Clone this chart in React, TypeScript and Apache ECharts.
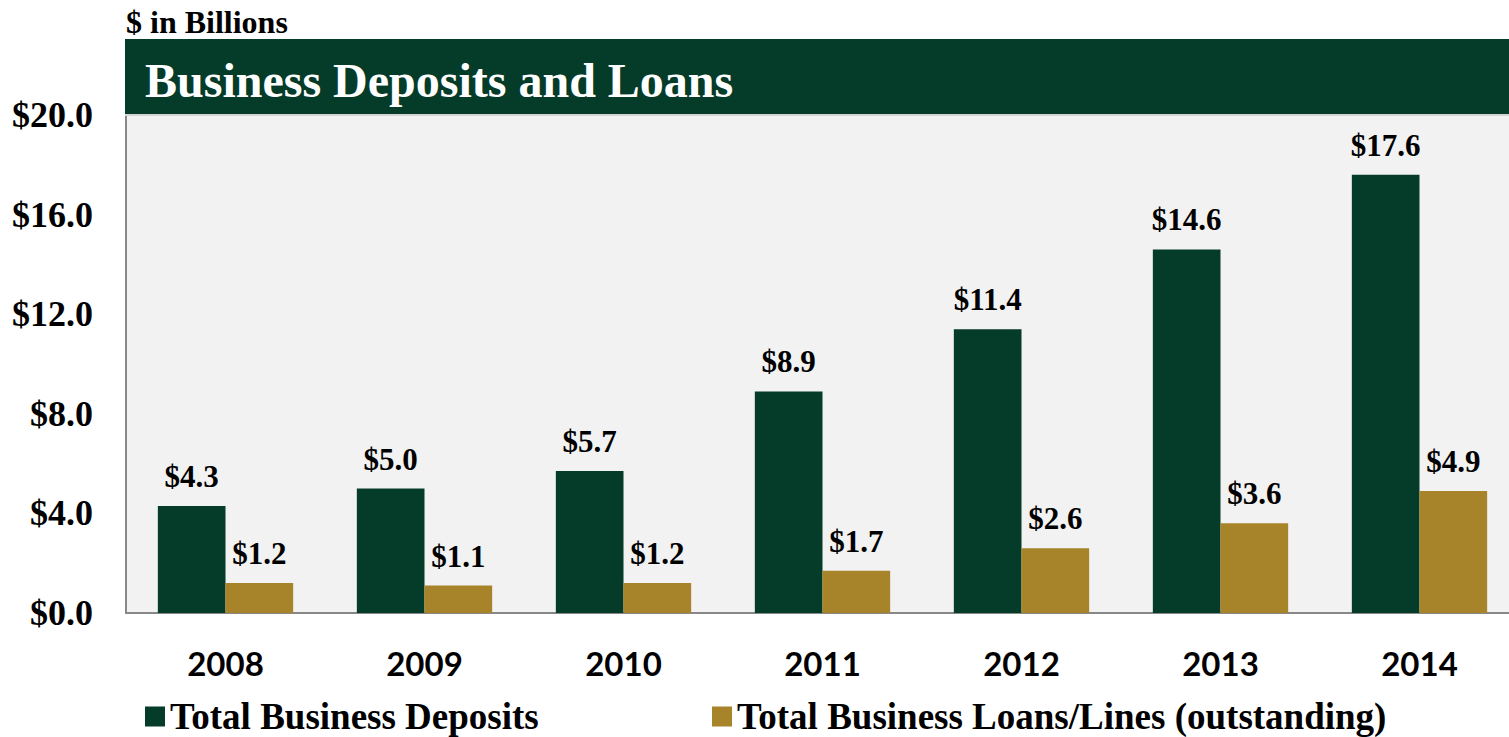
import React, { useEffect, useRef } from "react";
import * as echarts from "echarts";

const years = ["2008", "2009", "2010", "2011", "2012", "2013", "2014"];
const deposits = [4.3, 5.0, 5.7, 8.9, 11.4, 14.6, 17.6];
const loans = [1.2, 1.1, 1.2, 1.7, 2.6, 3.6, 4.9];
const seriesNames = ["Total Business Deposits", "Total Business Loans/Lines (outstanding)"];
const yTicks = { min: 0, max: 20, interval: 4 };

const GREEN = "#053B29";
const GOLD = "#A7832A";
const SERIF = "'Liberation Serif', 'Times New Roman', serif";

export default function App() {
  const ref = useRef<HTMLDivElement>(null);
  useEffect(() => {
    if (!ref.current) return;
    const chart = echarts.init(ref.current, null, { renderer: "svg" });
    const labelStyle = {
      show: true,
      position: "top",
      distance: 14,
      fontFamily: SERIF,
      fontWeight: "bold",
      fontSize: 31,
      color: "#000",
      formatter: (p: any) => "$" + Number(p.value).toFixed(1),
    };
    const legendText = { fontFamily: SERIF, fontWeight: "bold", fontSize: 37, color: "#000", lineHeight: 37 };
    chart.setOption({
      animation: false,
      backgroundColor: "#fff",
      graphic: [
        { type: "rect", shape: { x: 125, y: 39, width: 1400, height: 75 }, style: { fill: GREEN }, z: 10 },
        { type: "rect", shape: { x: 125, y: 114, width: 1400, height: 2 }, style: { fill: "#D4D4D4" }, z: 10 },
        {
          type: "text", x: 145, y: 80, z: 11,
          style: { text: "Business Deposits and Loans", fill: "#fff", font: `bold 48px ${SERIF}`, textVerticalAlign: "middle" },
        },
        {
          type: "text", x: 126, y: 22, z: 11,
          style: { text: "$ in Billions", fill: "#000", font: `bold 32px ${SERIF}`, textVerticalAlign: "middle" },
        },
      ],
      grid: { left: 126, right: 0, top: 115, bottom: 124, show: true, backgroundColor: "#F2F2F2", borderWidth: 0 },
      legend: [
        {
          data: [seriesNames[0]], left: 145, top: 698, padding: 0, icon: "rect", itemWidth: 20, itemHeight: 20,
          textStyle: legendText,
        },
        {
          data: [seriesNames[1]], left: 712, top: 698, padding: 0, icon: "rect", itemWidth: 20, itemHeight: 20,
          textStyle: legendText,
        },
      ],
      xAxis: {
        type: "category",
        data: years,
        axisLine: { show: true, lineStyle: { color: "#888", width: 2 } },
        axisTick: { show: false },
        axisLabel: { margin: 33, fontFamily: "Lato, 'Open Sans', sans-serif", fontWeight: "bold", fontSize: 33, color: "#000" },
      },
      yAxis: {
        type: "value",
        min: yTicks.min, max: yTicks.max, interval: yTicks.interval,
        axisLine: { show: true, lineStyle: { color: "#888", width: 2 } },
        axisTick: { show: false },
        splitLine: { show: false },
        axisLabel: {
          margin: 33, fontFamily: SERIF, fontWeight: "bold", fontSize: 36, color: "#000",
          formatter: (v: number) => "$" + v.toFixed(1),
        },
      },
      series: [
        { name: seriesNames[0], type: "bar", data: deposits, itemStyle: { color: GREEN }, barGap: "0%", barCategoryGap: "32%", label: labelStyle },
        { name: seriesNames[1], type: "bar", data: loans, itemStyle: { color: GOLD }, barGap: "0%", barCategoryGap: "32%", label: labelStyle },
      ],
    });
    return () => chart.dispose();
  }, []);
  return (
    <div style={{ position: "fixed", left: 0, top: 0, width: 1509, height: 737, overflow: "hidden" }}>
      <div ref={ref} style={{ width: 1519, height: 737 }} />
    </div>
  );
}
